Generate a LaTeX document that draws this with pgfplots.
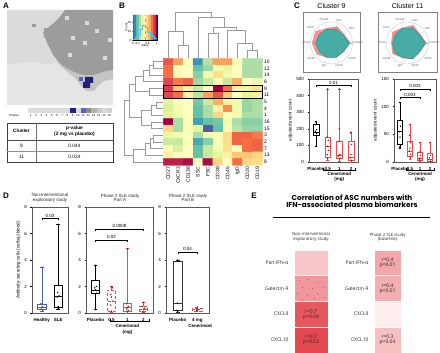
\documentclass[border=0pt]{standalone}
\usepackage{fontspec}
\setmainfont{Liberation Sans}
\newfontfamily\opensans{Open Sans}
\newfontfamily\poppins{Poppins}
\usepackage{pgfplots}
\pgfplotsset{compat=1.18}
\usepgfplotslibrary{polar,statistics}
\newcommand{\fs}[1]{\fontsize{#1}{#1}\selectfont}
\definecolor{somlight}{HTML}{E5E5E5}
\definecolor{somul}{HTML}{DBDBDB}
\definecolor{sommid}{HTML}{C4C4C4}
\definecolor{somdark}{HTML}{9C9C9C}
\definecolor{somblue}{HTML}{1F1F7E}
\definecolor{somblue2}{HTML}{5467C6}
\definecolor{boxred}{HTML}{F0474A}
\definecolor{boxblue}{HTML}{4F5DB8}
\definecolor{radred}{HTML}{F48A88}
\definecolor{radteal}{HTML}{3DAEA6}
\definecolor{dendro}{HTML}{9A9A9A}
\pgfplotsset{
  colormap={ered}{rgb255=(255,255,255) rgb255=(250,215,216) rgb255=(240,150,155) rgb255=(226,60,68)},
  colormap={spectral}{rgb255=(94,79,162) rgb255=(50,136,189) rgb255=(102,194,165) rgb255=(171,221,164) rgb255=(230,245,152) rgb255=(255,255,191) rgb255=(254,224,139) rgb255=(253,174,97) rgb255=(244,109,67) rgb255=(213,62,79) rgb255=(158,1,66)},
  every axis/.append style={scale only axis, /pgf/number format/assume math mode=true},
  dd/.style={dendro, line width=0.5pt, forget plot},
  bp/.style={
    anchor=south west, tick align=outside, major tick length=1.5pt,
    tick style={black, line width=0.4pt},
    axis line style={black!65, line width=0.5pt},
    tick label style={font=\fs{4.5}},
    ylabel style={font=\fs{4.5}},
    xticklabel style={font=\bfseries\fs{4.5}},
    enlargelimits=false, clip=false, xmin=0.4,
    boxplot/draw direction=y,
    boxplot/box extend=0.5, boxplot/whisker extend=0.22,
    ytick pos=left, xtick pos=bottom,
  },
  som/.style={line width=0pt, draw=none, forget plot},
}
\newcommand{\brk}[5]{%
  \draw[line width=0.4pt] ([yshift=-2pt]axis cs:#1,#4) -- (axis cs:#1,#4) -- (axis cs:#2,#4) -- ([yshift=-2pt]axis cs:#2,#4);
  \node[font=\fs{4.5}, above, inner sep=1pt] at (axis cs:#3,#4) {#5};}

\begin{document}
\begin{tikzpicture}[x=1pt,y=1pt]
\path[use as bounding box] (0,0) rectangle (440,353);

% ---------------- panel letters
\node[font=\bfseries\fs{8}] at (6,347) {A};
\node[font=\bfseries\fs{8}] at (122,347) {B};
\node[font=\bfseries\fs{8}] at (297,347) {C};
\node[font=\bfseries\fs{8}] at (6,157) {D};
\node[font=\bfseries\fs{8}] at (254,157) {E};

% ================= A : SOM map
\begin{axis}[at={(7pt,248pt)}, anchor=south west, width=106pt, height=95pt,
  xmin=7, xmax=113, ymin=10, ymax=105, y dir=reverse, hide axis, clip=true]
\addplot[som, fill=somlight] coordinates {(7,10)(113,10)(113,105)(7,105)} -- cycle;
\addplot[som, fill=somul] coordinates {(7,10)(65,10)(60,18)(50,26)(43,33)(47,45)(52,55)(58,63)(50,64)(40,63)(30,62)(20,63)(7,64)} -- cycle;
\addplot[som, fill=sommid] coordinates {(55,54)(58,63)(64,69)(70,74)(76,79)(80,85)(86,91)(94,91)(98,86)(104,81)(113,79)(113,66)(100,66)(70,58)} -- cycle;
\addplot[som, fill=somdark] coordinates {(65,10)(113,10)(113,70)(106,71)(100,73)(93,75)(86,75)(80,74)(74,72)(68,69)(62,65)(57,60)(53,55)(50,49)(47,43)(45,37)(43,33)(46,30)(50,26)(55,22)(59,18)(62,14)} -- cycle;
\addplot[som, fill=somdark] coordinates {(32,24)(35.5,24)(35.5,27.5)(32,27.5)} -- cycle;
\addplot[som, fill=somdark] coordinates {(44,28)(48,28)(48,38)(44,38)} -- cycle;
\addplot[som, fill=somblue2] coordinates {(79,77)(83,77)(83,81)(79,81)} -- cycle;
\addplot[som, fill=somblue] coordinates {(85,77)(93,77)(93,83)(90,83)(90,88)(83,88)(83,82)(85,82)} -- cycle;
\addplot[only marks, mark=square*, mark size=1.6pt, color=somul, forget plot] coordinates {(67,18)(87,23)(73,38)(85,43)(105,58)(97,31)(110,40)(70,55)};
\end{axis}

% cluster legend
\begin{axis}[at={(28pt,240pt)}, anchor=south west, width=84pt, height=5pt,
  xmin=0.5, xmax=16.5, ymin=0, ymax=1, axis line style={draw=none}, tick style={draw=none},
  ytick=\empty, xtick={1,...,16}, tick label style={font=\fs{3}, inner sep=1pt}, clip=false]
\addplot[only marks, mark=square*, mark size=2.1pt, color=black!14] coordinates {(1,0.5)(2,0.5)(3,0.5)(4,0.5)(5,0.5)(6,0.5)(7,0.5)(8,0.5)(10,0.5)(15,0.5)};
\addplot[only marks, mark=square*, mark size=2.1pt, color=black!18] coordinates {(16,0.5)};
\addplot[only marks, mark=square*, mark size=2.1pt, color=somblue] coordinates {(9,0.5)};
\addplot[only marks, mark=square*, mark size=2.1pt, color=somblue2] coordinates {(11,0.5)};
\addplot[only marks, mark=square*, mark size=2.1pt, color=black!45] coordinates {(12,0.5)};
\addplot[only marks, mark=square*, mark size=2.1pt, color=black!30] coordinates {(13,0.5)};
\addplot[only marks, mark=square*, mark size=2.1pt, color=black!22] coordinates {(14,0.5)};
\end{axis}
\node[font=\fs{3}] at (14,353-115) {Cluster};

% table
\draw[black!75, line width=0.6pt] (7,353-123) rectangle (113,353-162);
\draw[black!55, line width=0.4pt] (36,353-123) -- (36,353-162);
\draw[black!70, line width=0.5pt] (7,353-140) -- (113,353-140);
\draw[black!45, line width=0.4pt] (7,353-151) -- (113,353-151);
\node[font=\bfseries\fs{4.8}] at (21.5,353-131) {Cluster};
\node[font=\bfseries\fs{4.8}, align=center] at (74.5,353-131) {p-value\\[1pt](2 mg vs placebo)};
\node[font=\fs{4.8}] at (21.5,353-145.5) {9};
\node[font=\fs{4.8}] at (74.5,353-145.5) {0.044};
\node[font=\fs{4.8}] at (21.5,353-156.5) {11};
\node[font=\fs{4.8}] at (74.5,353-156.5) {0.024};

% ================= B : colour key
\begin{axis}[at={(133pt,313pt)}, anchor=south west, width=24pt, height=25pt,
  xmin=0, xmax=1, ymin=0, ymax=28, enlargelimits=false,
  xtick={0,0.2,0.6,1}, ytick={0,10,20}, tick label style={font=\fs{3}, inner sep=0.8pt},
  major tick length=1pt, tick align=outside, xtick pos=bottom, ytick pos=left,
  xlabel={Value}, ylabel={Count}, label style={font=\fs{3}},
  xlabel style={yshift=4pt}, ylabel style={yshift=-4pt}, axis line style={line width=0.3pt}]
\addplot[matrix plot*, mesh/cols=11, point meta=x] coordinates {
(0,7)(0.1,7)(0.2,7)(0.3,7)(0.4,7)(0.5,7)(0.6,7)(0.7,7)(0.8,7)(0.9,7)(1,7)
(0,21)(0.1,21)(0.2,21)(0.3,21)(0.4,21)(0.5,21)(0.6,21)(0.7,21)(0.8,21)(0.9,21)(1,21)};
\addplot[const plot, cyan!70, line width=0.35pt] coordinates {(0,1)(0.1,3)(0.2,6)(0.3,12)(0.4,17)(0.5,14)(0.6,9)(0.7,6)(0.8,4)(0.9,2)(1,2)};
\addplot[cyan!70, dashed, line width=0.3pt] coordinates {(0.5,0)(0.5,28)};
\end{axis}

% ================= B : heatmap with dendrograms
\begin{axis}[at={(163.3pt,187.7pt)}, anchor=south west, width=99pt, height=107pt,
  xmin=-0.5, xmax=9.5, ymin=-0.5, ymax=15.5, y dir=reverse, enlargelimits=false, clip=false,
  axis line style={draw=none}, tick style={draw=none},
  xtick={0,...,9}, xticklabels={CD27,CXCR3,CD138,SSC,FSC,CD38,CD45,IgD,CD20,CD19},
  x tick label style={rotate=90, anchor=east, font=\fs{5}, inner sep=1.5pt},
  ytick={0,...,15}, yticklabels={10,12,14,6,9,11,5,4,1,16,15,3,2,7,13,8},
  yticklabel pos=right, y tick label style={font=\fs{5}, inner sep=1.5pt},
  point meta min=0, point meta max=1]
\addplot[matrix plot*, mesh/cols=10, point meta=explicit] table[meta=c] {
x y c
0 0 0.85
1 0 0.72
2 0 0.50
3 0 0.12
4 0 0.32
5 0 0.72
6 0 0.72
7 0 0.48
8 0 0.30
9 0 0.30
0 1 0.80
1 1 0.50
2 1 0.50
3 1 0.20
4 1 0.28
5 1 0.45
6 1 0.42
7 1 0.50
8 1 0.30
9 1 0.30
0 2 0.80
1 2 0.52
2 2 0.50
3 2 0.25
4 2 0.45
5 2 0.60
6 2 0.45
7 2 0.50
8 2 0.30
9 2 0.30
0 3 0.88
1 3 0.78
2 3 0.82
3 3 0.28
4 3 0.35
5 3 0.52
6 3 0.35
7 3 0.70
8 3 0.50
9 3 0.45
0 4 0.90
1 4 0.65
2 4 0.55
3 4 0.35
4 4 0.50
5 4 1.00
6 4 0.80
7 4 0.55
8 4 0.42
9 4 0.60
0 5 0.88
1 5 0.80
2 5 0.55
3 5 0.32
4 5 0.72
5 5 0.85
6 5 0.65
7 5 0.50
8 5 0.40
9 5 0.42
0 6 0.40
1 6 0.48
2 6 0.50
3 6 0.22
4 6 0.35
5 6 0.70
6 6 0.55
7 6 0.45
8 6 0.28
9 6 0.30
0 7 0.38
1 7 0.45
2 7 0.50
3 7 0.20
4 7 0.30
5 7 0.55
6 7 0.75
7 7 0.45
8 7 0.27
9 7 0.30
0 8 0.40
1 8 0.45
2 8 0.50
3 8 0.20
4 8 0.30
5 8 0.62
6 8 0.48
7 8 0.45
8 8 0.30
9 8 0.30
0 9 1.00
1 9 0.30
2 9 0.48
3 9 0.14
4 9 0.20
5 9 0.22
6 9 0.45
7 9 0.30
8 9 0.25
9 9 0.25
0 10 0.62
1 10 0.30
2 10 0.48
3 10 0.40
4 10 0.02
5 10 0.20
6 10 0.48
7 10 0.32
8 10 0.27
9 10 0.27
0 11 0.42
1 11 0.45
2 11 0.50
3 11 0.30
4 11 0.45
5 11 0.52
6 11 0.60
7 11 0.82
8 11 0.82
9 11 0.78
0 12 0.35
1 12 0.35
2 12 0.48
3 12 0.15
4 12 0.25
5 12 0.48
6 12 0.60
7 12 0.82
8 12 0.80
9 12 0.82
0 13 0.52
1 13 0.38
2 13 0.50
3 13 0.20
4 13 0.35
5 13 0.45
6 13 0.60
7 13 0.50
8 13 0.80
9 13 0.82
0 14 0.55
1 14 0.50
2 14 0.50
3 14 0.20
4 14 0.35
5 14 0.40
6 14 0.55
7 14 0.65
8 14 0.65
9 14 0.62
0 15 0.95
1 15 0.95
2 15 0.98
3 15 0.50
4 15 0.98
5 15 0.62
6 15 0.50
7 15 0.80
8 15 0.62
9 15 0.60
};
% top dendrogram
\addplot[dd] coordinates {(1,-0.5)(1,-2.5)(2,-2.5)(2,-0.5)};
\addplot[dd] coordinates {(0,-0.5)(0,-4.5)(1.5,-4.5)(1.5,-2.5)};
\addplot[dd] coordinates {(8,-0.5)(8,-1.7)(9,-1.7)(9,-0.5)};
\addplot[dd] coordinates {(7,-0.5)(7,-2.7)(8.5,-2.7)(8.5,-1.7)};
\addplot[dd] coordinates {(6,-0.5)(6,-4.7)(7.75,-4.7)(7.75,-2.7)};
\addplot[dd] coordinates {(4,-0.5)(4,-4.2)(5,-4.2)(5,-0.5)};
\addplot[dd] coordinates {(4.5,-4.2)(4.5,-5.2)(6.875,-5.2)(6.875,-4.7)};
\addplot[dd] coordinates {(3,-0.5)(3,-6.7)(5.69,-6.7)(5.69,-5.2)};
\addplot[dd] coordinates {(0.75,-4.5)(0.75,-7.4)(4.34,-7.4)(4.34,-6.7)};
% left dendrogram
\addplot[dd] coordinates {(-0.5,0)(-1.5,0)(-1.5,1)(-0.5,1)};
\addplot[dd] coordinates {(-1.5,0.5)(-1.9,0.5)(-1.9,2)(-0.5,2)};
\addplot[dd] coordinates {(-1.9,1.25)(-2.5,1.25)(-2.5,3)(-0.5,3)};
\addplot[dd] coordinates {(-0.5,4)(-1.9,4)(-1.9,5)(-0.5,5)};
\addplot[dd] coordinates {(-2.5,2.125)(-3.3,2.125)(-3.3,4.5)(-1.9,4.5)};
\addplot[dd] coordinates {(-0.5,6)(-1.2,6)(-1.2,7)(-0.5,7)};
\addplot[dd] coordinates {(-1.2,6.5)(-1.7,6.5)(-1.7,8)(-0.5,8)};
\addplot[dd] coordinates {(-0.5,9)(-1.7,9)(-1.7,10)(-0.5,10)};
\addplot[dd] coordinates {(-1.7,7.25)(-2.7,7.25)(-2.7,9.5)(-1.7,9.5)};
\addplot[dd] coordinates {(-3.3,3.31)(-3.9,3.31)(-3.9,8.375)(-2.7,8.375)};
\addplot[dd] coordinates {(-0.5,11)(-1.5,11)(-1.5,12)(-0.5,12)};
\addplot[dd] coordinates {(-1.5,11.5)(-1.8,11.5)(-1.8,13)(-0.5,13)};
\addplot[dd] coordinates {(-1.8,12.25)(-2.35,12.25)(-2.35,14)(-0.5,14)};
\addplot[dd] coordinates {(-2.35,13.125)(-3.5,13.125)(-3.5,15)(-0.5,15)};
\addplot[dd] coordinates {(-3.9,5.84)(-4.4,5.84)(-4.4,14.06)(-3.5,14.06)};
% highlight rows 9 and 11
\addplot[black, line width=0.6pt, forget plot] coordinates {(-0.55,3.5)(9.55,3.5)(9.55,4.5)(-0.55,4.5)(-0.55,3.5)};
\addplot[black, line width=0.6pt, forget plot] coordinates {(-0.55,4.5)(9.55,4.5)(9.55,5.5)(-0.55,5.5)(-0.55,4.5)};
\end{axis}

% ================= C : radar charts
\node[font=\fs{7}] at (331.5,353-6) {Cluster 9};
\node[font=\fs{7}] at (407.5,353-6) {Cluster 11};
\draw[black!50, line width=0.7pt] (303,353-72) rectangle (360,353-12);
\draw[black!50, line width=0.7pt] (378,353-72) rectangle (437,353-12);
\begin{polaraxis}[at={(331.5pt,310pt)}, anchor=center, width=42pt, height=42pt,
  ymin=0, ymax=1.12, xtick={0,36,...,324},
  xticklabels={CXCR3,SSC,FSC,CD138,CD27,CD19,CD38,IgD,CD45,CD20},
  ytick={0.28,0.56,0.84}, yticklabels={}, grid=major,
  major grid style={black!18, line width=0.25pt}, axis line style={black!25, line width=0.3pt},
  xticklabel style={font=\fs{2.8}, text=black!65, inner sep=0.6pt}, tick style={draw=none}]
\addplot[fill=radred, fill opacity=0.9, draw=radred!80!red, line width=0.4pt] coordinates {(0,1.0)(36,0.8)(72,0.92)(108,0.8)(144,1.05)(180,1.03)(216,0.98)(252,0.8)(288,0.8)(324,0.78)} -- cycle;
\addplot[fill=radteal, fill opacity=0.95, draw=teal!80!cyan, line width=0.4pt] coordinates {(0,0.95)(36,0.75)(72,0.78)(108,0.78)(144,0.8)(180,0.85)(216,0.8)(252,0.8)(288,0.8)(324,0.78)} -- cycle;
\end{polaraxis}
\begin{polaraxis}[at={(407.5pt,310pt)}, anchor=center, width=42pt, height=42pt,
  ymin=0, ymax=1.12, xtick={0,36,...,324},
  xticklabels={CXCR3,SSC,FSC,CD138,CD27,CD19,CD38,IgD,CD45,CD20},
  ytick={0.28,0.56,0.84}, yticklabels={}, grid=major,
  major grid style={black!18, line width=0.25pt}, axis line style={black!25, line width=0.3pt},
  xticklabel style={font=\fs{2.8}, text=black!65, inner sep=0.6pt}, tick style={draw=none}]
\addplot[fill=radred, fill opacity=0.9, draw=radred!80!red, line width=0.4pt] coordinates {(0,1.0)(36,0.8)(72,0.98)(108,0.85)(144,0.98)(180,0.85)(216,0.97)(252,0.82)(288,0.9)(324,0.8)} -- cycle;
\addplot[fill=radteal, fill opacity=0.95, draw=teal!80!cyan, line width=0.4pt] coordinates {(0,0.95)(36,0.78)(72,0.85)(108,0.82)(144,0.8)(180,0.8)(216,0.85)(252,0.82)(288,0.88)(324,0.8)} -- cycle;
\end{polaraxis}

% ================= C : boxplots cluster 9
\begin{axis}[bp, at={(309pt,191pt)}, width=49pt, height=83pt, xmax=4.6,
  ymin=0, ymax=500, ytick={0,100,...,500}, xtick={1,2,3,4}, xticklabels={Placebo,0.5,1,2},
  ylabel={adjusted event count}, ylabel style={yshift=-3pt}]
\addplot[boxplot prepared={draw position=1, lower whisker=95, lower quartile=160, median=180, upper quartile=225, upper whisker=245}, draw=black, line width=0.5pt] coordinates {};
\addplot[boxplot prepared={draw position=2, lower whisker=8, lower quartile=30, median=95, upper quartile=150, upper whisker=440}, draw=boxred, line width=0.5pt] coordinates {};
\addplot[boxplot prepared={draw position=3, lower whisker=5, lower quartile=20, median=40, upper quartile=125, upper whisker=440}, draw=boxred, line width=0.5pt] coordinates {};
\addplot[boxplot prepared={draw position=4, lower whisker=0, lower quartile=10, median=30, upper quartile=125, upper whisker=180}, draw=boxred, line width=0.5pt] coordinates {};
\addplot[only marks, mark=*, mark size=0.45pt, black] coordinates {(1,240)(0.95,225)(1.05,195)(0.95,185)(1.05,172)(1,95)};
\addplot[only marks, mark=*, mark size=0.45pt, red!70!black] coordinates {(2,440)(1.95,150)(2.05,130)(2,95)(2.05,70)(1.95,45)(2,20)(3,440)(3,200)(2.95,125)(3.05,45)(2.95,35)(3.05,20)(4,180)(3.95,175)(4.05,105)(4,45)(3.95,25)(4.05,10)};
\brk{1}{4}{2.5}{462}{0.01}
\draw[line width=0.4pt] ([yshift=-6pt]axis cs:1.65,0) -- ([yshift=-8.5pt]axis cs:1.65,0) -- ([yshift=-8.5pt]axis cs:4.4,0) -- ([yshift=-6pt]axis cs:4.4,0);
\node[font=\bfseries\fs{4.5}] at ([yshift=-12pt]axis cs:3,0) {Cenerimod};
\node[font=\bfseries\fs{4.5}] at ([yshift=-17pt]axis cs:3,0) {(mg)};
\end{axis}

% ================= C : boxplots cluster 11
\begin{axis}[bp, at={(394pt,191pt)}, width=42pt, height=83pt, xmax=4.6,
  ymin=0, ymax=150, ytick={0,50,100,150}, xtick={1,2,3,4}, xticklabels={Placebo,0.5,1,2},
  ylabel={adjusted event count}, ylabel style={yshift=-3pt}]
\addplot[boxplot prepared={draw position=1, lower whisker=25, lower quartile=32, median=55, upper quartile=75, upper whisker=108}, draw=black, line width=0.5pt] coordinates {};
\addplot[boxplot prepared={draw position=2, lower whisker=5, lower quartile=10, median=20, upper quartile=37, upper whisker=68}, draw=boxred, line width=0.5pt] coordinates {};
\addplot[boxplot prepared={draw position=3, lower whisker=2, lower quartile=4, median=7, upper quartile=18, upper whisker=35}, draw=boxred, line width=0.5pt] coordinates {};
\addplot[boxplot prepared={draw position=4, lower whisker=0, lower quartile=2, median=5, upper quartile=15, upper whisker=35}, draw=boxred, line width=0.5pt] coordinates {};
\addplot[only marks, mark=*, mark size=0.45pt, black] coordinates {(1,108)(1.05,65)(0.95,55)(1,45)(1.05,30)(0.95,27)};
\addplot[only marks, mark=*, mark size=0.45pt, red!70!black] coordinates {(2,68)(1.95,48)(2.05,35)(2,25)(1.95,20)(2.05,14)(2,9)(3,35)(2.95,18)(3.05,12)(3,7)(2.95,4)(4,35)(4.05,12)(3.95,8)(4,4)(4.05,1)};
\brk{1}{3}{2}{117}{0.003}
\brk{1}{4}{2.5}{132}{0.003}
\draw[line width=0.4pt] ([yshift=-6pt]axis cs:1.65,0) -- ([yshift=-8.5pt]axis cs:1.65,0) -- ([yshift=-8.5pt]axis cs:4.4,0) -- ([yshift=-6pt]axis cs:4.4,0);
\node[font=\bfseries\fs{4.5}] at ([yshift=-12pt]axis cs:3,0) {Cenerimod};
\node[font=\bfseries\fs{4.5}] at ([yshift=-17pt]axis cs:3,0) {(mg)};
\end{axis}

% ================= D
\node[font=\fs{4.5}, align=center, text=black!85] at (50,353-198) {Non-interventional\\exploratory study};
\node[font=\fs{4.5}, align=center, text=black!85] at (120,353-198) {Phase 2 SLE study\\Part A};
\node[font=\fs{4.5}, align=center, text=black!85] at (188,353-198) {Phase 2 SLE study\\Part B};

\begin{axis}[bp, at={(32pt,40pt)}, width=36pt, height=106pt, xmax=2.6,
  ymin=0, ymax=8, ytick={0,2,4,6,8}, xtick={1,2}, xticklabels={Healthy,SLE},
  ylabel={Antibody-secreting cells (cells/µl blood)}, ylabel style={yshift=-3pt}]
\addplot[boxplot prepared={draw position=1, lower whisker=0.1, lower quartile=0.3, median=0.45, upper quartile=0.65, upper whisker=3.45}, draw=boxblue, line width=0.5pt] coordinates {};
\addplot[boxplot prepared={draw position=2, lower whisker=0.3, lower quartile=0.45, median=1.25, upper quartile=2.1, upper whisker=6.7}, draw=black, line width=0.5pt] coordinates {};
\addplot[only marks, mark=*, mark size=0.45pt, boxblue!60!black] coordinates {(1,3.45)(0.95,0.7)(1.05,0.5)(1,0.4)(0.95,0.3)(1.05,0.2)};
\addplot[only marks, mark=*, mark size=0.45pt, black] coordinates {(2,6.7)(2,2.1)(1.97,1.55)(2.05,1.3)(1.95,1.2)(2,0.5)(2,0.3)};
\brk{1}{2}{1.5}{7.15}{0.03}
\end{axis}

\begin{axis}[bp, at={(86pt,40pt)}, width=67pt, height=106pt, xmax=4.6,
  ymin=0, ymax=8, ytick={0,2,4,6,8}, xtick={1,2,3,4}, xticklabels={Placebo,0.5,1,2}]
\addplot[boxplot prepared={draw position=1, lower whisker=0.25, lower quartile=1.5, median=1.75, upper quartile=2.45, upper whisker=3.6}, draw=black, line width=0.5pt] coordinates {};
\addplot[boxplot prepared={draw position=2, lower whisker=0.05, lower quartile=0.15, median=0.9, upper quartile=1.75, upper whisker=2.0}, draw=boxred, densely dashed, line width=0.5pt] coordinates {};
\addplot[boxplot prepared={draw position=3, lower whisker=0.0, lower quartile=0.15, median=0.45, upper quartile=0.7, upper whisker=4.85}, draw=boxred, line width=0.5pt] coordinates {};
\addplot[boxplot prepared={draw position=4, lower whisker=0.05, lower quartile=0.1, median=0.3, upper quartile=0.5, upper whisker=0.8}, draw=boxred, densely dashed, line width=0.5pt] coordinates {};
\addplot[only marks, mark=*, mark size=0.45pt, black] coordinates {(1,3.6)(1.05,2.0)(0.95,1.9)(1,1.75)(1.05,1.5)(1,0.25)};
\addplot[only marks, mark=*, mark size=0.45pt, red!70!black] coordinates {(2,2.0)(2.05,1.9)(1.95,1.4)(2,1.2)(2.05,0.9)(1.95,0.6)(2,0.15)(3,4.85)(2.95,0.7)(3.05,0.5)(3,0.4)(2.95,0.3)(3.05,0.2)(3,0.1)(4,0.8)(3.95,0.5)(4.05,0.35)(4,0.25)(3.95,0.1)};
\brk{1}{3}{2}{5.5}{0.02}
\brk{1}{4}{2.5}{6.35}{0.0008}
\draw[line width=0.4pt] ([yshift=-6pt]axis cs:1.9,0) -- ([yshift=-8.5pt]axis cs:1.9,0) -- ([yshift=-8.5pt]axis cs:4.35,0) -- ([yshift=-6pt]axis cs:4.35,0);
\node[font=\bfseries\fs{4.5}] at ([yshift=-13pt]axis cs:3,0) {Cenerimod};
\node[font=\bfseries\fs{4.5}] at ([yshift=-19.5pt]axis cs:3,0) {(mg)};
\end{axis}

\begin{axis}[bp, at={(166pt,40pt)}, width=43pt, height=106pt, xmax=2.6,
  ymin=0, ymax=8, ytick={0,2,4,6,8}, xtick={1,2}, xticklabels={Placebo,4 mg}]
\addplot[boxplot prepared={draw position=1, lower whisker=0.05, lower quartile=0.2, median=0.75, upper quartile=3.9, upper whisker=4.0}, draw=black!80, line width=0.5pt] coordinates {};
\addplot[boxplot prepared={draw position=2, lower whisker=0.1, lower quartile=0.15, median=0.25, upper quartile=0.35, upper whisker=0.45}, draw=boxred, densely dashed, line width=0.5pt] coordinates {};
\addplot[only marks, mark=*, mark size=0.45pt, black] coordinates {(1,4.0)(1.05,3.9)(1,0.75)(0.95,0.2)(1,0.1)};
\addplot[only marks, mark=*, mark size=0.45pt, red!70!black] coordinates {(2,0.45)(1.95,0.3)(2.05,0.25)(2,0.2)(1.95,0.15)};
\brk{1}{2}{1.5}{4.6}{0.04}
\node[font=\bfseries\fs{4.5}] at ([yshift=-13pt]axis cs:2.15,0) {Cenerimod};
\end{axis}

% ================= E
\node[font=\poppins\bfseries\fs{7.2}, align=center] at (352,353-202) {Correlation of ASC numbers with\\IFN-associated plasma biomarkers};
\draw[line width=0.9pt] (273,353-217) -- (430,353-217);
\node[font=\opensans\fs{4.3}, align=center, text=black!85] at (311,353-237) {Non-interventional\\exploratory study};
\node[font=\opensans\fs{4.3}, align=center, text=black!85] at (387.5,353-237) {Phase 2 SLE study\\(baseline)};

\begin{axis}[at={(294pt,0pt)}, anchor=south west, width=34pt, height=103pt,
  xmin=0, xmax=1, ymin=0, ymax=4, y dir=reverse, hide axis, colormap name=ered,
  point meta min=0, point meta max=1, clip=false]
\addplot[patch, patch type=rectangle, shader=flat, point meta=explicit, draw=white, line width=0.8pt] table[meta=c] {
x y c
0 0 0.42
1 0 0.42
1 1 0.42
0 1 0.42
0 1 0.66
1 1 0.66
1 2 0.66
0 2 0.66
0 2 0.90
1 2 0.90
1 3 0.90
0 3 0.90
0 3 0.95
1 3 0.95
1 4 0.95
0 4 0.95
};
\addplot[only marks, mark=*, mark size=0.2pt, color=red!60!black, opacity=0.6] coordinates {(0.15,1.2)(0.4,1.15)(0.7,1.25)(0.25,1.45)(0.55,1.5)(0.85,1.45)(0.1,1.7)(0.4,1.75)(0.7,1.7)(0.25,1.9)(0.6,1.88)(0.9,1.85)};
\node[font=\opensans\fs{5}, align=center, text=black!85] at (axis cs:0.5,2.5) {r=0.7\\p=0.04};
\node[font=\opensans\fs{5}, align=center, text=black!85] at (axis cs:0.5,3.5) {r=0.7\\p=0.03};
\end{axis}
\node[font=\opensans\fs{5}, anchor=east, text=black!85] at (292,353-263) {Pan-IFN-α};
\node[font=\opensans\fs{5}, anchor=east, text=black!85] at (292,353-288.5) {Galectin-9};
\node[font=\opensans\fs{5}, anchor=east, text=black!85] at (292,353-314) {CXCL9};
\node[font=\opensans\fs{5}, anchor=east, text=black!85] at (292,353-340) {CXCL10};

\begin{axis}[at={(374pt,0pt)}, anchor=south west, width=27pt, height=103pt,
  xmin=0, xmax=1, ymin=0, ymax=4, y dir=reverse, hide axis, colormap name=ered,
  point meta min=0, point meta max=1, clip=false]
\addplot[patch, patch type=rectangle, shader=flat, point meta=explicit, draw=white, line width=0.8pt] table[meta=c] {
x y c
0 0 0.58
1 0 0.58
1 1 0.58
0 1 0.58
0 1 0.54
1 1 0.54
1 2 0.54
0 2 0.54
0 2 0.15
1 2 0.15
1 3 0.15
0 3 0.15
0 3 0.45
1 3 0.45
1 4 0.45
0 4 0.45
};
\node[font=\opensans\fs{5}, align=center, text=black!85] at (axis cs:0.5,0.5) {r=0.4\\p=0.01};
\node[font=\opensans\fs{5}, align=center, text=black!85] at (axis cs:0.5,1.5) {r=0.4\\p=0.01};
\node[font=\opensans\fs{5}, align=center, text=black!85] at (axis cs:0.5,3.5) {r=0.3\\p=0.04};
\end{axis}
\node[font=\opensans\fs{5}, anchor=east, text=black!85] at (372,353-263) {Pan-IFN-α};
\node[font=\opensans\fs{5}, anchor=east, text=black!85] at (372,353-288.5) {Galectin-9};
\node[font=\opensans\fs{5}, anchor=east, text=black!85] at (372,353-314) {CXCL9};
\node[font=\opensans\fs{5}, anchor=east, text=black!85] at (372,353-340) {CXCL10};

\end{tikzpicture}
\end{document}
